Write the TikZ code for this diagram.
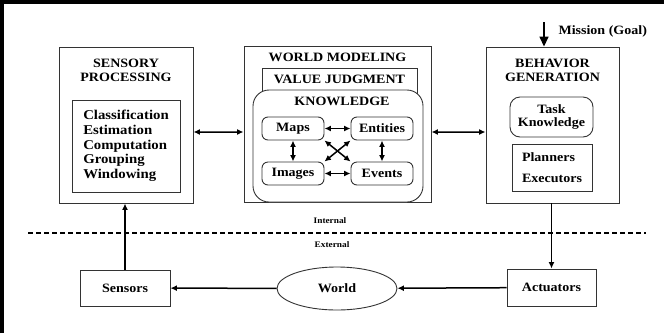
\documentclass[tikz,border=0pt]{standalone}
\usepackage{fontspec}
\setmainfont[FakeStretch=1.1]{Liberation Serif}
\usetikzlibrary{arrows.meta,shapes.geometric}
\begin{document}
\begin{tikzpicture}[x=1bp, y=-1bp, font=\bfseries\fontsize{12.8}{14}\selectfont,
  >={Latex[length=6.5bp,width=6bp]},
  box/.style={draw=black!80, line width=0.9bp, fill=white, inner sep=0pt},
  sub/.style={box, rounded corners=6bp},
  link/.style={line width=1.5bp, <->},
  flow/.style={line width=1.5bp, ->}]
  \useasboundingbox (0,0) rectangle (664,333);
  % Frame
  \draw[line width=4bp] (1.8,333) -- (1.8,2) -- (664,2);
  % Sensory processing
  \node[box, minimum width=134bp, minimum height=156bp] (sp) at (126,125) {};
  \node[align=center] (sptitle) at (126,70) {SENSORY\\PROCESSING};
  \node[box, minimum width=108bp, minimum height=92bp, align=left,
    font=\bfseries\fontsize{13.5}{14.7}\selectfont] (splist) at (126,146)
    {Classification\\Estimation\\Computation\\Grouping\\Windowing};
  % World modeling
  \node[box, minimum width=187bp, minimum height=156bp] (wm) at (337.5,124) {};
  \node (wmtitle) at (337.5,57) {WORLD MODELING};
  \node[box, minimum width=155bp, minimum height=52bp] (vj) at (339.5,94) {};
  \node (vjtitle) at (339.5,79.5) {VALUE JUDGMENT};
  \node[box, rounded corners=16bp, minimum width=170bp, minimum height=112bp] (kn) at (338,146) {};
  \node (kntitle) at (342,101) {KNOWLEDGE};
  \node[sub, minimum width=62bp, minimum height=23bp] (maps) at (293,128.5) {Maps};
  \node[sub, minimum width=62bp, minimum height=23bp] (entities) at (382,128.5) {Entities};
  \node[sub, minimum width=62bp, minimum height=23bp] (images) at (293,173.5) {Images};
  \node[sub, minimum width=62bp, minimum height=23bp] (events) at (382,173.5) {Events};
  \foreach \a/\b in {maps/entities, images/events, maps/images, entities/events}
    \draw[link] (\a) -- (\b);
  \draw[link] (maps.south east) -- (events.north west);
  \draw[link] (entities.south west) -- (images.north east);
  % Behavior generation
  \node[box, minimum width=133bp, minimum height=156bp] (bg) at (552.5,125) {};
  \node[align=center] (bgtitle) at (552.5,70) {BEHAVIOR\\GENERATION};
  \node[box, rounded corners=10bp, minimum width=83bp, minimum height=40bp, align=center] (task) at (551.5,117) {Task\\Knowledge};
  \node[box, minimum width=80bp, minimum height=47bp, align=left,
    font=\bfseries\fontsize{12.8}{21}\selectfont] (plan) at (552,167.5) {Planners\\Executors};
  \coordinate (goal) at (544,22);
  \draw[line width=1.5bp, -{Triangle[length=10bp,width=9bp]}] (goal) -- (goal |- bg.north);
  \node[anchor=west] (mission) at (555,31) {Mission (Goal)};
  % Links between modules
  \draw[link] ([yshift=-7bp]sp.east) -- ([yshift=-8bp]wm.west);
  \draw[link] ([yshift=-8bp]wm.east) -- ([yshift=-7bp]bg.west);
  % Internal / external
  \coordinate (dl) at (28,233);
  \coordinate (dr) at (646,233);
  \draw[line width=1.3bp, dash pattern=on 5bp off 3bp] (dl) -- (dr);
  \node[font=\bfseries\fontsize{8.5}{10}\selectfont] (internal) at (330,221) {Internal};
  \node[font=\bfseries\fontsize{8.5}{10}\selectfont] (external) at (332,245) {External};
  % Outside world
  \node[box, minimum width=90bp, minimum height=36bp] (sensors) at (125,288) {Sensors};
  \node[box, ellipse, minimum width=120bp, minimum height=43bp] (world) at (337,288.5) {World};
  \node[box, minimum width=89bp, minimum height=37bp] (act) at (551.5,287.5) {Actuators};
  \draw[flow] (sensors.north) -- (sensors.north |- sp.south);
  \draw[flow] (act.north |- bg.south) -- (act.north);
  \draw[flow] (act) -- (world);
  \draw[flow] (world) -- (sensors);
\end{tikzpicture}
\end{document}
